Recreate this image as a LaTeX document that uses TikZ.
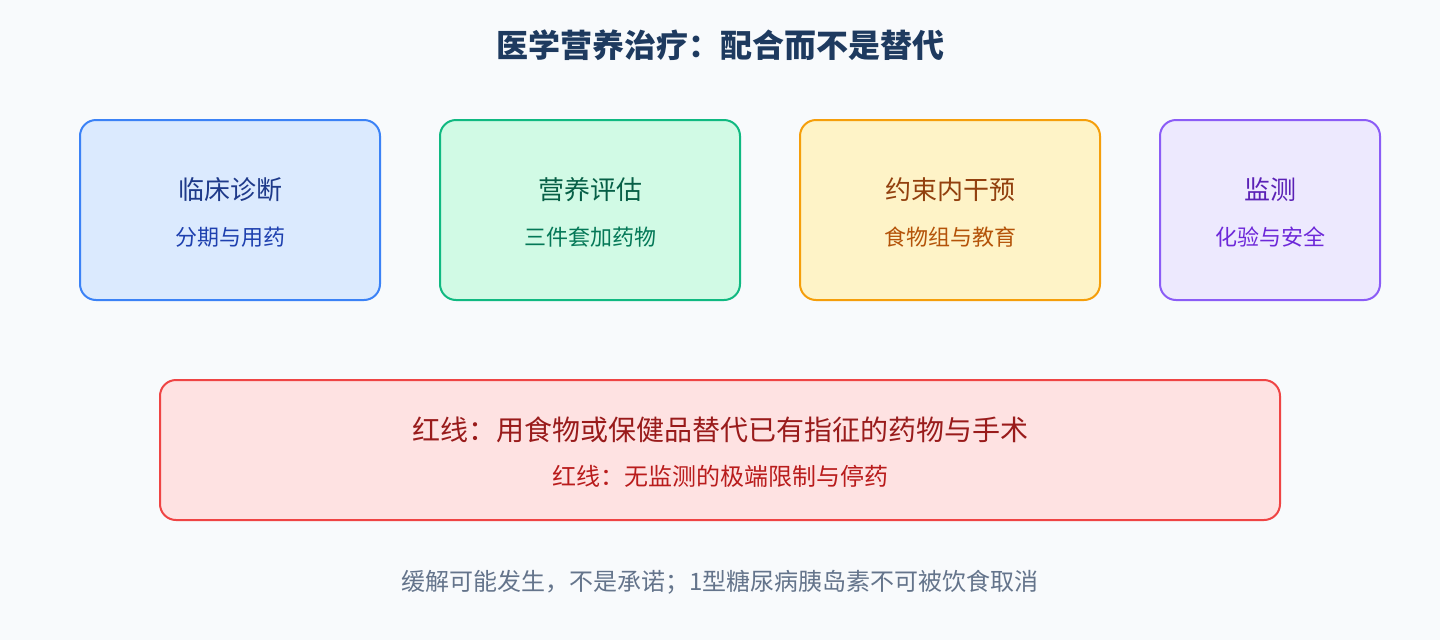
\documentclass[tikz,border=0pt]{standalone}
\usepackage{fontspec}
\setmainfont{Noto Sans CJK SC}
\usetikzlibrary{positioning}

\definecolor{bgcol}{HTML}{F8FAFC}
\definecolor{headcol}{HTML}{1E3A5F}
\definecolor{footcol}{HTML}{64748B}
\definecolor{blueFill}{HTML}{DBEAFE}
\definecolor{blueLine}{HTML}{3B82F6}
\definecolor{blueHead}{HTML}{1E3A8A}
\definecolor{blueSub}{HTML}{1E40AF}
\definecolor{greenFill}{HTML}{D1FAE5}
\definecolor{greenLine}{HTML}{10B981}
\definecolor{greenHead}{HTML}{065F46}
\definecolor{greenSub}{HTML}{047857}
\definecolor{amberFill}{HTML}{FEF3C7}
\definecolor{amberLine}{HTML}{F59E0B}
\definecolor{amberHead}{HTML}{92400E}
\definecolor{amberSub}{HTML}{B45309}
\definecolor{violetFill}{HTML}{EDE9FE}
\definecolor{violetLine}{HTML}{8B5CF6}
\definecolor{violetHead}{HTML}{5B21B6}
\definecolor{violetSub}{HTML}{6D28D9}
\definecolor{redFill}{HTML}{FEE2E2}
\definecolor{redLine}{HTML}{EF4444}
\definecolor{redHead}{HTML}{991B1B}
\definecolor{redSub}{HTML}{B91C1C}

\tikzset{
	card/.style={draw, line width=1.5pt, rounded corners=12pt, inner sep=0pt},
	cardhead/.style={font=\fontsize{19.5}{22}\selectfont, inner sep=0pt},
	cardsub/.style={font=\fontsize{16.5}{19}\selectfont, inner sep=0pt},
}

\begin{document}
\begin{tikzpicture}[x=0.75pt, y=-0.75pt]
	\useasboundingbox (0, 0) rectangle (1440, 640);
	\fill[bgcol] (0, 0) rectangle (1440, 640);
	% title
	\node[text=headcol, font=\fontsize{24}{28}\selectfont\bfseries] (title) at (720, 45) {医学营养治疗：配合而不是替代};
	% four steps
	\node[card, fill=blueFill, draw=blueLine, minimum width=300*0.75pt, minimum height=180*0.75pt] (diag) at (230, 210) {};
	\node[cardhead, text=blueHead] (diaghead) at (230, 190) {临床诊断};
	\node[cardsub, text=blueSub] (diagsub) at (230, 237) {分期与用药};
	\node[card, fill=greenFill, draw=greenLine, minimum width=300*0.75pt, minimum height=180*0.75pt] (assess) at (590, 210) {};
	\node[cardhead, text=greenHead] (assesshead) at (590, 190) {营养评估};
	\node[cardsub, text=greenSub] (assesssub) at (590, 237) {三件套加药物};
	\node[card, fill=amberFill, draw=amberLine, minimum width=300*0.75pt, minimum height=180*0.75pt] (interv) at (950, 210) {};
	\node[cardhead, text=amberHead] (intervhead) at (950, 190) {约束内干预};
	\node[cardsub, text=amberSub] (intervsub) at (950, 237) {食物组与教育};
	\node[card, fill=violetFill, draw=violetLine, minimum width=220*0.75pt, minimum height=180*0.75pt] (monit) at (1270, 210) {};
	\node[cardhead, text=violetHead] (monithead) at (1270, 190) {监测};
	\node[cardsub, text=violetSub] (monitsub) at (1270, 237) {化验与安全};
	% red lines
	\node[card, fill=redFill, draw=redLine, minimum width=1120*0.75pt, minimum height=140*0.75pt] (redline) at (720, 450) {};
	\node[text=redHead, font=\fontsize{21}{24}\selectfont, inner sep=0pt] (redhead) at (720, 430) {红线：用食物或保健品替代已有指征的药物与手术};
	\node[text=redSub, font=\fontsize{18}{21}\selectfont, inner sep=0pt] (redsub) at (720, 476) {红线：无监测的极端限制与停药};
	% footer
	\node[text=footcol, font=\fontsize{18}{21}\selectfont, inner sep=0pt] (foot) at (720, 582) {缓解可能发生，不是承诺；1型糖尿病胰岛素不可被饮食取消};
\end{tikzpicture}
\end{document}
